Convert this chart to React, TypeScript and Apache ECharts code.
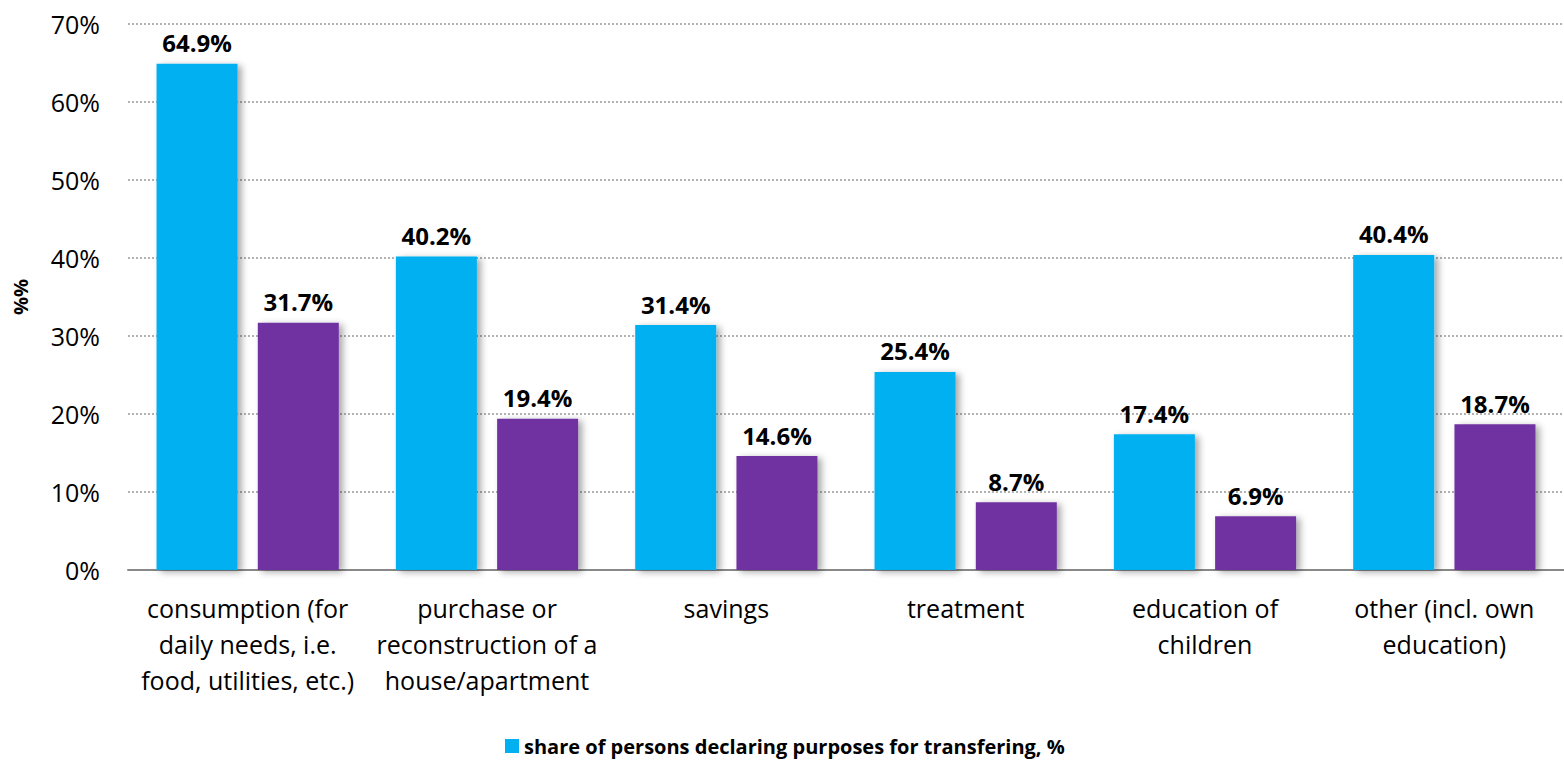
import React, { useEffect, useRef } from "react";
import * as echarts from "echarts";

const categories = [
  "consumption (for\ndaily needs, i.e.\nfood, utilities, etc.)",
  "purchase or\nreconstruction of a\nhouse/apartment",
  "savings",
  "treatment",
  "education of\nchildren",
  "other (incl. own\neducation)",
];
const seriesShareName = "share of persons declaring purposes for transfering, %";
const seriesShare = [64.9, 40.2, 31.4, 25.4, 17.4, 40.4];
const seriesSecond = [31.7, 19.4, 14.6, 8.7, 6.9, 18.7];

const FONT = "'Open Sans', 'Liberation Sans', sans-serif";

export default function App() {
  const ref = useRef<HTMLDivElement>(null);
  useEffect(() => {
    document.body.style.margin = "0";
    const chart = echarts.init(ref.current!, null, { renderer: "svg" });
    const shadow = {
      shadowBlur: 7,
      shadowOffsetX: 4,
      shadowOffsetY: 2,
      shadowColor: "rgba(0,0,0,0.35)",
    };
    const label = {
      show: true,
      position: "top" as const,
      distance: 9,
      fontFamily: FONT,
      fontWeight: "bold" as const,
      fontSize: 24,
      color: "#000",
      formatter: (p: any) => p.value.toFixed(1) + "%",
    };
    chart.setOption({
      animation: false,
      textStyle: { fontFamily: FONT },
      grid: { left: 128, right: 0, top: 24, bottom: 194, containLabel: false },
      legend: {
        data: [seriesShareName],
        bottom: 3,
        left: 500,
        itemWidth: 14,
        itemHeight: 14,
        itemGap: 4,
        icon: "rect",
        textStyle: { fontFamily: FONT, fontSize: 20, fontWeight: "bold", color: "#000" },
      },
      xAxis: {
        type: "category",
        data: categories,
        axisLine: { lineStyle: { color: "#888", width: 2 } },
        axisTick: { show: false },
        axisLabel: {
          interval: 0,
          margin: 20,
          fontFamily: FONT,
          fontSize: 25,
          lineHeight: 36,
          color: "#000",
        },
      },
      yAxis: {
        type: "value",
        min: 0,
        max: 70,
        interval: 10,
        name: "%%",
        nameLocation: "middle",
        nameGap: 98,
        nameTextStyle: { fontFamily: FONT, fontSize: 20, fontWeight: "bold", color: "#000" },
        axisLine: { show: false },
        axisTick: { show: false },
        axisLabel: {
          margin: 28,
          fontFamily: FONT,
          fontSize: 25,
          color: "#000",
          formatter: (v: number) => v + "%",
        },
        splitLine: { lineStyle: { color: "#999", type: [2, 2], width: 1.5 } },
      },
      series: [
        {
          name: seriesShareName,
          type: "bar",
          data: seriesShare,
          barWidth: 81,
          barGap: "25%",
          itemStyle: { color: "#00B0F0", ...shadow },
          label,
        },
        {
          name: "purposes",
          type: "bar",
          data: seriesSecond,
          barWidth: 81,
          itemStyle: { color: "#7030A0", ...shadow },
          label,
        },
      ],
    });
    return () => chart.dispose();
  }, []);
  return (
    <div
      ref={ref}
      style={{ position: "absolute", left: 0, top: 0, width: 1564, height: 764 }}
    />
  );
}
